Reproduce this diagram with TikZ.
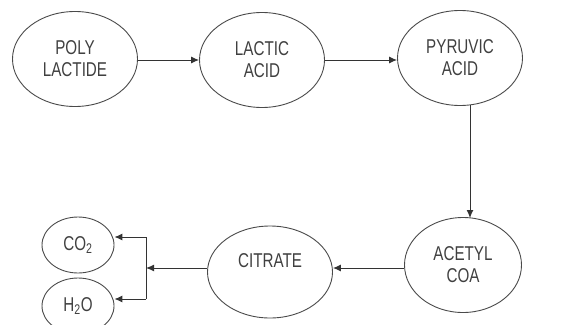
\documentclass[tikz,border=0pt]{standalone}
\usepackage{fontspec}
\setmainfont[FakeStretch=0.76]{Liberation Sans}
\usetikzlibrary{shapes.geometric,arrows.meta}
\definecolor{ln}{HTML}{333333}
\definecolor{el}{HTML}{4A4A4A}
\definecolor{tx}{HTML}{404040}
\begin{document}
\begin{tikzpicture}[x=1pt,y=-1pt,
  ell/.style={ellipse,draw=el,line width=0.9pt,inner sep=0pt,text=tx,align=center,
    font=\fontsize{20}{22}\selectfont},
  big/.style={ell,minimum width=125pt,minimum height=95pt},
  small/.style={ell,minimum width=72pt,minimum height=56pt},
  arr/.style={draw=ln,line width=1pt,-{Latex[length=8pt,width=7pt]}},
  lin/.style={draw=ln,line width=1pt}]
\useasboundingbox (0,0) rectangle (572,324);
\node[big] (poly) at (75,59) {POLY\\LACTIDE};
\node[big] (lactic) at (262,60) {LACTIC\\ACID};
\node[big] (pyr) at (460,58) {PYRUVIC\\ACID};
\node[ell,minimum width=117pt,minimum height=95pt] (acetyl) at (463,265) {ACETYL\\COA};
\node[big,minimum height=92pt] (citrate) at (270,272) {CITRATE\\\mbox{}};
\node[small] (co2) at (78,245) {CO\textsubscript{2}};
\node[small] (h2o) at (78,306) {H\textsubscript{2}O};
\coordinate (j) at (146,268);
\coordinate (jt) at (146,237);
\coordinate (jb) at (146,299);
\coordinate (ptop) at (470,218);
\draw[arr] (poly.east |- 0,60) -- (lactic.west |- 0,60);
\draw[arr] (lactic.east |- 0,60) -- (pyr.west |- 0,60);
\draw[arr] (pyr.south -| ptop) ++(0,-0.5) -- (ptop);
\draw[arr] (acetyl.west |- 0,268) -- (citrate.east |- 0,268);
\draw[arr] (citrate.west |- 0,268) -- (j);
\draw[lin] (jt) -- (jb);
\draw[arr] (jt) -- (co2.east |- jt);
\draw[arr] (jb) -- (h2o.east |- jb);
\end{tikzpicture}
\end{document}
